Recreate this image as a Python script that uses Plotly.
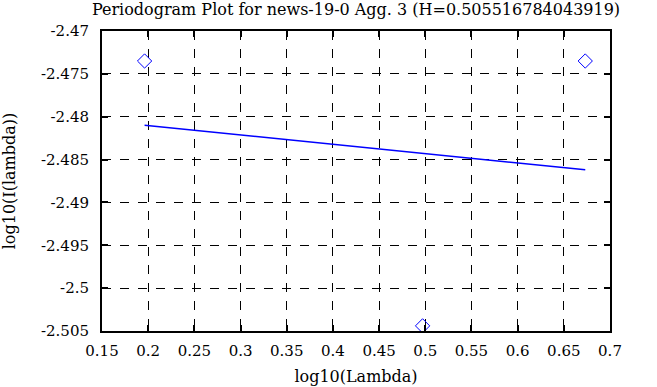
import plotly.graph_objects as go

# data
x_points = [0.1961, 0.4971, 0.6732]
y_points = [-2.4735, -2.5044, -2.4735]
x_fit = [0.1961, 0.6732]
y_fit = [-2.4810, -2.4862]

x_ticks = [0.15, 0.2, 0.25, 0.3, 0.35, 0.4, 0.45, 0.5, 0.55, 0.6, 0.65, 0.7]
x_tick_labels = ["0.15", "0.2", "0.25", "0.3", "0.35", "0.4", "0.45", "0.5", "0.55", "0.6", "0.65", "0.7"]
y_ticks = [-2.47, -2.475, -2.48, -2.485, -2.49, -2.495, -2.5, -2.505]
y_tick_labels = ["-2.47", "-2.475", "-2.48", "-2.485", "-2.49", "-2.495", "-2.5", "-2.505"]

title = "Periodogram Plot for news-19-0 Agg. 3 (H=0.505516784043919)"

font = "DejaVu Serif"

fig = go.Figure()
fig.add_trace(go.Scatter(
    x=x_points, y=y_points, mode="markers",
    marker=dict(symbol="diamond-open", size=11, color="#0000ff", line=dict(width=1, color="#0000ff")),
    showlegend=False,
))
fig.add_trace(go.Scatter(
    x=x_fit, y=y_fit, mode="lines",
    line=dict(color="#0000ff", width=1.5),
    showlegend=False,
))

axis_common = dict(
    showline=True, linecolor="black", linewidth=2, mirror="ticks",
    ticks="inside", ticklen=6, tickwidth=2, tickcolor="black",
    showgrid=True, gridcolor="black", gridwidth=1, griddash="dash",
    zeroline=False, automargin=False,
    tickfont=dict(family=font, size=15, color="black"),
)

fig.update_xaxes(
    range=[0.15, 0.7], tickvals=x_ticks, ticktext=x_tick_labels,
    ticklabelstandoff=5,
    title=dict(text="log10(Lambda)", font=dict(family=font, size=16, color="black"), standoff=12),
    **axis_common,
)
fig.update_yaxes(
    range=[-2.505, -2.47], tickvals=y_ticks, ticktext=y_tick_labels,
    ticklabelstandoff=8,
    title=dict(text="log10(I(lambda))", font=dict(family=font, size=16, color="black"), standoff=24),
    **axis_common,
)

fig.update_layout(
    width=657, height=387,
    margin=dict(l=102, r=47, t=31, b=56),
    paper_bgcolor="white", plot_bgcolor="white",
    title=dict(text=title, font=dict(family=font, size=16, color="black"),
               x=0.5, xref="paper", xanchor="center", y=1, yanchor="top", pad=dict(t=4)),
)

fig.write_html(
    "out.html",
    config={"displayModeBar": False},
    post_script="document.body.style.margin='0';document.body.style.overflow='hidden';",
)
